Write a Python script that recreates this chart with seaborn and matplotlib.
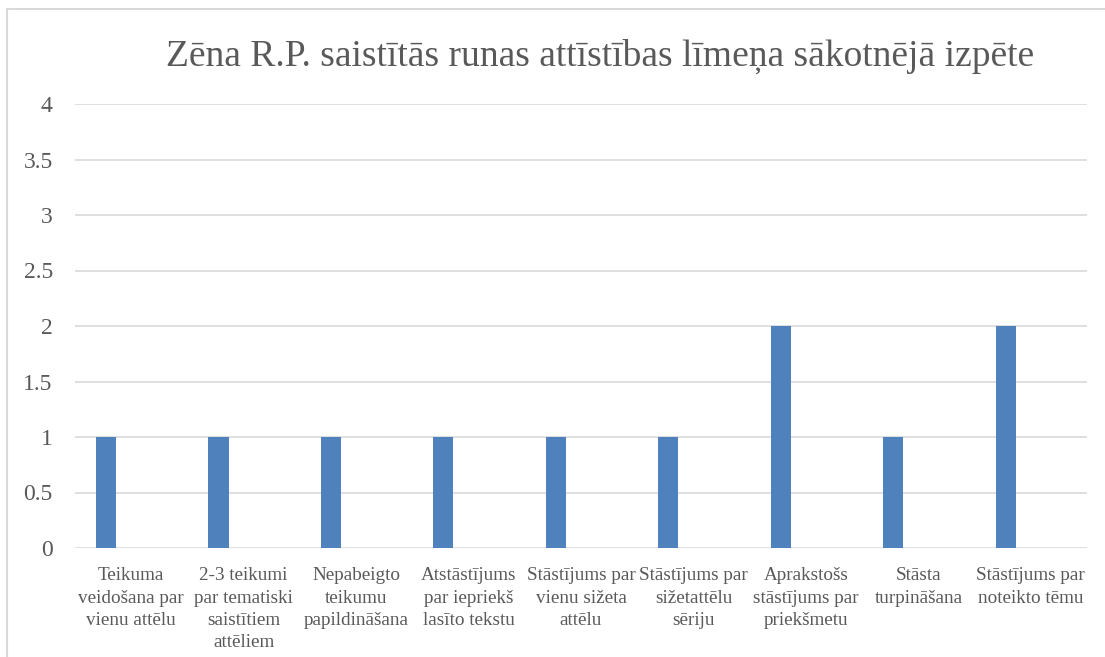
import matplotlib
matplotlib.use("Agg")
import matplotlib.pyplot as plt
import seaborn as sns
import pandas as pd
from matplotlib.patches import Rectangle

categories = [
    "Teikuma\nveidošana par\nvienu attēlu",
    "2-3 teikumi\npar tematiski\nsaistītiem\nattēliem",
    "Nepabeigto\nteikumu\npapildināšana",
    "Atstāstījums\npar iepriekš\nlasīto tekstu",
    "Stāstījums par\nvienu sižeta\nattēlu",
    "Stāstījums par\nsižetattēlu\nsēriju",
    "Aprakstošs\nstāstījums par\npriekšmetu",
    "Stāsta\nturpināšana",
    "Stāstījums par\nnoteikto tēmu",
]
series1 = [1, 1, 1, 1, 1, 1, 2, 1, 2]
# empty series in the original workbook (kept so bars sit left of centre)
series2 = [0, 0, 0, 0, 0, 0, 0, 0, 0]
series3 = [0, 0, 0, 0, 0, 0, 0, 0, 0]
series_names = ["Sērija 1", "Sērija 2", "Sērija 3"]
title = "Zēna R.P. saistītās runas attīstības līmeņa sākotnējā izpēte"
yticks = [0, 0.5, 1, 1.5, 2, 2.5, 3, 3.5, 4]

df = pd.concat([
    pd.DataFrame({"kategorija": categories, "vertiba": vals, "serija": name})
    for name, vals in zip(series_names, [series1, series2, series3])
])

sns.set_style("white")
plt.rcParams["font.family"] = ["Liberation Serif", "DejaVu Serif"]
text_color = "#595959"

fig = plt.figure(figsize=(11.05, 6.57), dpi=100)
ax = fig.add_axes([75 / 1105, 109 / 657, 1012 / 1105, 444 / 657])

sns.barplot(data=df, x="kategorija", y="vertiba", hue="serija", hue_order=series_names,
            order=categories, palette=["#4F81BD", "#C0504D", "#9BBB59"],
            width=0.672, gap=0.2, errorbar=None, legend=False, ax=ax, zorder=3,
            linewidth=0, saturation=1)

ax.set_xlim(-0.5, len(categories) - 0.5)
ax.set_ylim(0, 4)
ax.set_yticks(yticks)
ax.set_yticklabels([f"{t:g}" for t in yticks])
ax.set_xticks(range(len(categories)), categories, linespacing=1.4, va="top")
ax.yaxis.grid(True, color="#d9d9d9", linewidth=1.2, zorder=0)
ax.set_axisbelow(True)
for s in ax.spines.values():
    s.set_visible(False)
ax.tick_params(axis="y", length=0, pad=16, labelsize=17, labelcolor=text_color)
ax.tick_params(axis="x", length=0, pad=14, labelsize=13.8, labelcolor=text_color)
ax.set_xlabel("")
ax.set_ylabel("")

fig.text(600 / 1105, 1 - 56 / 657, title, ha="center", va="center",
         fontsize=27, color=text_color)

fig.patches.append(Rectangle((7 / 1105, -0.1), 1.2, 1 - 8.5 / 657 + 0.1,
                             transform=fig.transFigure, fill=False,
                             edgecolor="#d9d9d9", linewidth=1.5))

fig.savefig("out.png", dpi=100)
